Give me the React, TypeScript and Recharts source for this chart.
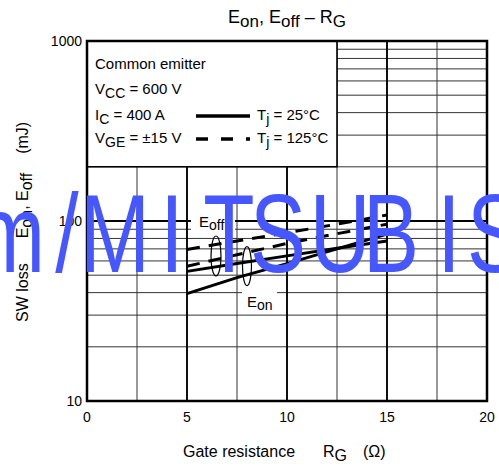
import React from 'react';
import {
  LineChart,
  Line,
  XAxis,
  YAxis,
  CartesianGrid,
  ReferenceArea,
  ReferenceDot,
} from 'recharts';

const FONT = '"Liberation Sans", Arial, Helvetica, sans-serif';

// Gate resistance RG (ohm)
const rg = [5, 7.5, 10, 12.5, 15];
// Switching losses (mJ)
const eoff125 = [69.5, 77.5, 86, 96, 108];
const eon125 = [56, 65, 75, 85, 96];
const eoff25 = [52.5, 58, 64, 70.5, 77.5];
const eon25 = [39.5, 48.5, 58, 70, 84.5];

const xTicks = [0, 2.5, 5, 7.5, 10, 12.5, 15, 17.5, 20];
const xLabelTicks = [0, 5, 10, 15, 20];
const yTicks = [10, 20, 30, 40, 50, 60, 70, 80, 90, 100, 200, 300, 400, 500, 600, 700, 800, 900, 1000];
const yLabelTicks = [10, 100, 1000];

const data = rg.map((x, i) => ({
  rg: x,
  eoff125: eoff125[i],
  eon125: eon125[i],
  eoff25: eoff25[i],
  eon25: eon25[i],
}));

const legendContent = (props: any) => {
  const vb = props.viewBox || { x: 0, y: 0 };
  const x = vb.x;
  const y = vb.y;
  return (
    <g fontFamily={FONT} fontSize={15} fill="#000" style={{ whiteSpace: 'pre' }}>
      <text x={x + 8} y={y + 28} fill="#000">Common emitter</text>
      <text x={x + 8} y={y + 53} fill="#000">
        V<tspan dy={3.5} fontSize={14}>CC</tspan>
        <tspan dy={-3.5}>{' = 600 V'}</tspan>
      </text>
      <text x={x + 8} y={y + 79} fill="#000">
        I<tspan dy={3.5} fontSize={14}>C</tspan>
        <tspan dy={-3.5}>{' = 400 A'}</tspan>
      </text>
      <text x={x + 8} y={y + 102} fill="#000">
        V<tspan dy={3.5} fontSize={14}>GE</tspan>
        <tspan dy={-3.5}>{' = \u00B115 V'}</tspan>
      </text>
      <line x1={x + 109} x2={x + 163} y1={y + 75} y2={y + 75} stroke="#000" strokeWidth={3.3} />
      <line x1={x + 109} x2={x + 163} y1={y + 98} y2={y + 98} stroke="#000" strokeWidth={3.3} strokeDasharray="12 13" />
      <text x={x + 170} y={y + 79} fill="#000">
        T<tspan dy={3.5} fontSize={14}>j</tspan>
        <tspan dy={-3.5}>{' = 25\u00B0C'}</tspan>
      </text>
      <text x={x + 170} y={y + 102} fill="#000">
        T<tspan dy={3.5} fontSize={14}>j</tspan>
        <tspan dy={-3.5}>{' = 125\u00B0C'}</tspan>
      </text>
    </g>
  );
};

const EoffLabel = (p: any) => (
  <g>
    <rect x={p.cx - 8} y={p.cy - 17} width={44} height={24} fill="#fff" />
    <text x={p.cx} y={p.cy} fontSize={15} fontFamily={FONT} fill="#000">
      E<tspan dy={3} fontSize={14}>off</tspan>
    </text>
  </g>
);

const EonLabel = (p: any) => (
  <g>
    <rect x={p.cx - 5} y={p.cy - 22} width={35} height={26} fill="#fff" />
    <text x={p.cx} y={p.cy} fontSize={15} fontFamily={FONT} fill="#000">
      E<tspan dy={3} fontSize={14}>on</tspan>
    </text>
  </g>
);

const ellipseShape = (rx: number, ry: number) => (p: any) => (
  <ellipse cx={p.cx} cy={p.cy} rx={rx} ry={ry} fill="none" stroke="#000" strokeWidth={1.2} />
);

const xLabelContent = (props: any) => {
  const vb = props.viewBox || { x: 0, y: 0 };
  const bx = vb.x;
  const by = vb.y;
  return (
    <text y={by + 56} fontSize={16} fontFamily={FONT} fill="#000">
      <tspan x={bx + 96}>Gate resistance</tspan>
      <tspan x={bx + 236}>R</tspan>
      <tspan dy={3.5}>G</tspan>
      <tspan x={bx + 276} dy={-3.5}>({'\u03A9'})</tspan>
    </text>
  );
};

const yLabelContent = (props: any) => {
  const vb = props.viewBox || { x: 0, y: 0 };
  const px = vb.x + 1;
  const py = vb.y + 281;
  return (
    <text
      transform={`rotate(-90)`}
      x={-py}
      y={px}
      fontSize={16}
      fontFamily={FONT}
      fill="#000"
      style={{ whiteSpace: 'pre' }}
    >
      <tspan>SW loss</tspan>
      <tspan dx={25}>E</tspan>
      <tspan dy={3.5}>on</tspan>
      <tspan dy={-3.5}>, E</tspan>
      <tspan dy={3.5}>off</tspan>
      <tspan dx={19} dy={-3.5}>(mJ)</tspan>
    </text>
  );
};

const watermark: Array<[string, number]> = [
  ['m', 10],
  ['/', 67],
  ['M', 115],
  ['I', 172],
  ['T', 229],
  ['S', 278],
  ['U', 340],
  ['B', 391],
  ['I', 449],
  ['S', 495],
];

export default function App() {
  return (
    <div style={{ position: 'absolute', left: 0, top: 0, width: 499, height: 470, background: '#fff' }}>
      <LineChart
        width={499}
        height={470}
        data={data}
        margin={{ top: 41, right: 12, bottom: 39, left: 27 }}
      >
        <CartesianGrid stroke="#333" strokeWidth={1} />
        <CartesianGrid
          horizontalValues={[100]}
          verticalValues={[5, 10, 15]}
          stroke="#000"
          strokeWidth={1.8}
        />
        <XAxis
          dataKey="rg"
          type="number"
          domain={[0, 20]}
          ticks={xTicks}
          interval={0}
          tickFormatter={(v: number) => (xLabelTicks.includes(v) ? String(v) : '')}
          axisLine={false}
          tickLine={false}
          tickSize={0}
          tickMargin={11}
          height={30}
          tick={{ fontSize: 14, fill: '#000', fontFamily: FONT }}
          label={{ content: xLabelContent }}
          allowDataOverflow
        />
        <YAxis
          type="number"
          scale="log"
          domain={[10, 1000]}
          ticks={yTicks}
          interval={0}
          tickFormatter={(v: number) => (yLabelTicks.includes(v) ? String(v) : '')}
          axisLine={false}
          tickLine={false}
          tickSize={0}
          tickMargin={5}
          width={60}
          tick={{ fontSize: 14, fill: '#000', fontFamily: FONT }}
          label={{ content: yLabelContent }}
          allowDataOverflow
        />
        <ReferenceArea
          x1={0}
          x2={12.5}
          y1={200}
          y2={1000}
          fill="#fff"
          fillOpacity={1}
          stroke="#000"
          strokeWidth={1.6}
          label={legendContent}
        />
        <ReferenceArea
          x1={0}
          x2={20}
          y1={10}
          y2={1000}
          fill="none"
          fillOpacity={0}
          stroke="#000"
          strokeWidth={2.5}
        />
        <ReferenceDot x={5.6} y={93} r={1} shape={EoffLabel} />
        <ReferenceDot x={8.0} y={33.4} r={1} shape={EonLabel} />
        <Line dataKey="eoff125" stroke="#000" strokeWidth={3} strokeDasharray="13 9" dot={false} activeDot={false} isAnimationActive={false} />
        <Line dataKey="eon125" stroke="#000" strokeWidth={3} strokeDasharray="13 9" dot={false} activeDot={false} isAnimationActive={false} />
        <Line dataKey="eoff25" stroke="#000" strokeWidth={3} dot={false} activeDot={false} isAnimationActive={false} />
        <Line dataKey="eon25" stroke="#000" strokeWidth={3} dot={false} activeDot={false} isAnimationActive={false} />
        <ReferenceDot x={6.45} y={63.9} r={1} shape={ellipseShape(5, 20)} />
        <ReferenceDot x={8.0} y={56.2} r={1} shape={ellipseShape(4.5, 19.5)} />
      </LineChart>
      <svg
        width={499}
        height={470}
        style={{ position: 'absolute', left: 0, top: 0, pointerEvents: 'none' }}
      >
        <text x={287} y={23} textAnchor="middle" fontSize={18} fontFamily={FONT} fill="#000" style={{ whiteSpace: 'pre' }}>
          E<tspan dy={3.5} fontSize={17}>on</tspan>
          <tspan dy={-3.5}>{', E'}</tspan>
          <tspan dy={3.5} fontSize={17}>off</tspan>
          <tspan dy={-3.5}>{' \u2013 R'}</tspan>
          <tspan dy={3.5} fontSize={17}>G</tspan>
        </text>
        {watermark.map(([c, x], i) => (
          <text
            key={i}
            transform={`translate(${x},272) scale(0.75,1)`}
            x={0}
            y={0}
            textAnchor="middle"
            fontSize={112}
            fontFamily={FONT}
            fill="#4657ff"
          >
            {c}
          </text>
        ))}
      </svg>
    </div>
  );
}
